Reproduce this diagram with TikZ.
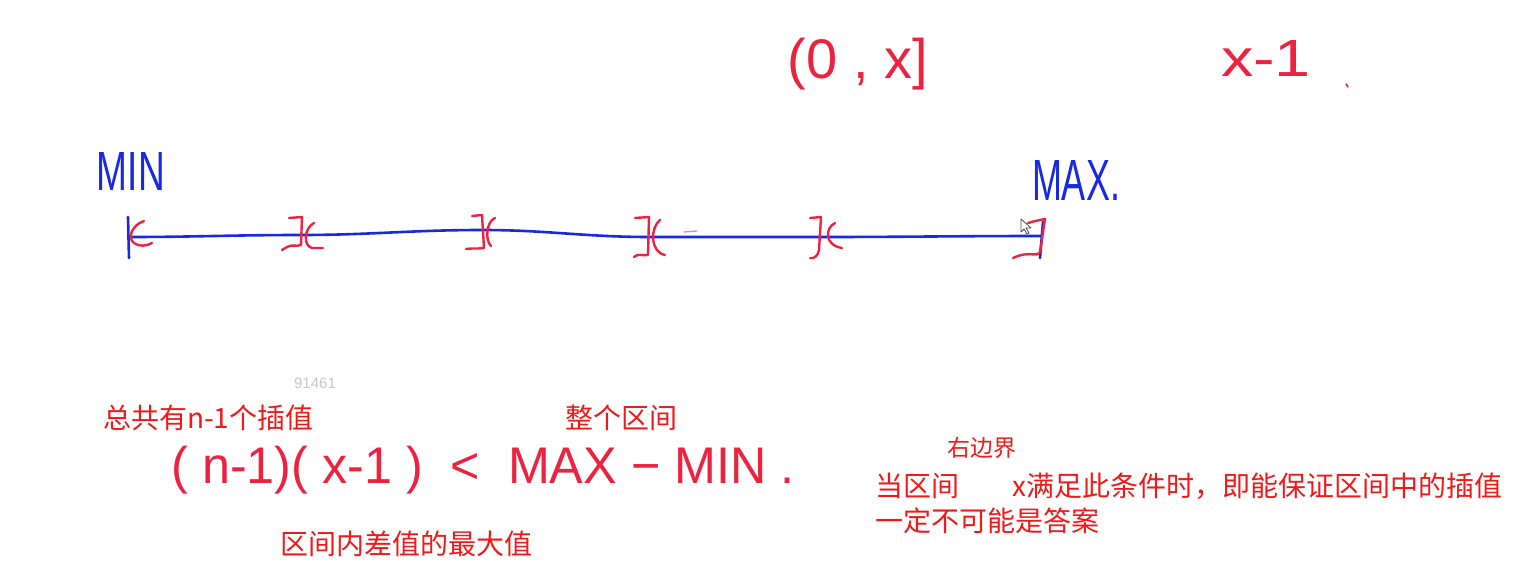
\documentclass[tikz,border=0pt]{standalone}
\usepackage{fontspec}
\usepackage{graphicx}
\newfontfamily\cjk{Noto Sans CJK SC}
\newfontfamily\hw{Liberation Sans}
\definecolor{hwblue}{RGB}{25,40,225}
\definecolor{hwred}{RGB}{235,35,65}
\definecolor{txtred}{RGB}{240,25,25}
\definecolor{wmgray}{RGB}{200,200,200}
\begin{document}
\begin{tikzpicture}[x=1pt,y=-1pt, line cap=round, line join=round,
  bluepen/.style={draw=hwblue, line width=2.6pt},
  redpen/.style={draw=hwred, line width=2.4pt},
  hwtext/.style={inner sep=0pt, outer sep=0pt},
  cjktext/.style={inner sep=0pt, text=txtred, font=\cjk\fontsize{28}{33}\selectfont},
]
\useasboundingbox (0,0) rectangle (1532,581);

% number line
\coordinate (p0) at (128,237);
\coordinate (p1) at (300,235);
\coordinate (p2) at (482,230);
\coordinate (p3) at (650,237);
\coordinate (p4) at (820,237);
\coordinate (p5) at (1041,236);
\draw[bluepen] (p0) to[out=0,in=180] (p1) to[out=0,in=180] (p2) to[out=0,in=180] (p3) to[out=0,in=180] (p4) to[out=0,in=180] (p5);
\draw[bluepen] (128,217) -- (129,258);
\draw[bluepen] (1043,222) -- (1040,258);

% left end bracket
\draw[redpen] (144,221) .. controls (132,225) and (127,238) .. (134,243) .. controls (139,247) and (147,246) .. (152,243);
% bracket 1
\draw[redpen] (289,218) -- (302,217) -- (301,245) .. controls (296,247) and (292,244) .. (287,247) -- (282,250);
\draw[redpen] (314,223) .. controls (304,228) and (303,246) .. (312,248) -- (323,248);
% bracket 2
\draw[redpen] (472,216) -- (482,215) -- (484,248) .. controls (478,249) and (472,248) .. (466,249);
\draw[redpen] (495,218) .. controls (486,222) and (485,240) .. (491,246);
% bracket 3
\draw[redpen] (635,218) -- (649,217) -- (648,255) .. controls (642,256) and (638,253) .. (634,257);
\draw[redpen] (660,220) .. controls (650,228) and (650,252) .. (665,255);
\draw[draw=hwred!55, line width=1.3pt] (684,232) -- (697,231);
% bracket 4
\draw[redpen] (810,218) -- (821,217) -- (819,250) .. controls (818,256) and (814,259) .. (810,258);
\draw[redpen] (835,223) .. controls (825,228) and (824,245) .. (842,248);
% right end bracket
\draw[redpen] (1028,223) .. controls (1035,221) .. (1045,219) -- (1040,252) .. controls (1036,258) and (1030,250) .. (1013,258);

% mouse pointer
\draw[fill=white, draw=black!70, line width=0.8pt] (1021,219) -- (1021,232) -- (1024,229) -- (1027,234) -- (1029,233) -- (1026,228) -- (1031,228) -- cycle;

% handwritten labels
\node[hwtext, text=hwblue] (min) at (131,171) {\resizebox*{68pt}{38pt}{\hw MIN}};
\node[hwtext, text=hwblue] (max) at (1076,180) {\resizebox*{88pt}{40pt}{\hw MAX.}};
\node[hwtext, text=hwred] (intv) at (858,64) {\resizebox*{140pt}{52pt}{\hw (0 , x]}};
\node[hwtext, text=hwred] (xm1) at (1266,58) {\resizebox*{90pt}{36pt}{\hw x-1}};
\draw[draw=hwred, line width=1.6pt] (1346,84) -- (1348,87);
\node[hwtext, text=hwred] (ineq) at (483,470) {\resizebox*{623pt}{48pt}{\hw ( n-1)( x-1 ) \ < \ MAX − MIN .}};

% typed texts
\node[inner sep=0pt, text=wmgray, font=\hw\fontsize{15}{18}\selectfont] (wm) at (315,383) {91461};
\node[cjktext, anchor=west] (t1) at (103,418) {总共有n-1个插值};
\node[cjktext] (t2) at (621,418) {整个区间};
\node[cjktext] (t3) at (406,544) {区间内差值的最大值};
\node[cjktext, font=\cjk\fontsize{23}{27}\selectfont] (t4) at (982,448) {右边界};
\node[cjktext, anchor=west] (t5) at (875,486) {当区间};
\node[cjktext, anchor=west] (t6) at (1012,486) {x满足此条件时，即能保证区间中的插值};
\node[cjktext, anchor=west] (t7) at (875,521) {一定不可能是答案};
\end{tikzpicture}
\end{document}
